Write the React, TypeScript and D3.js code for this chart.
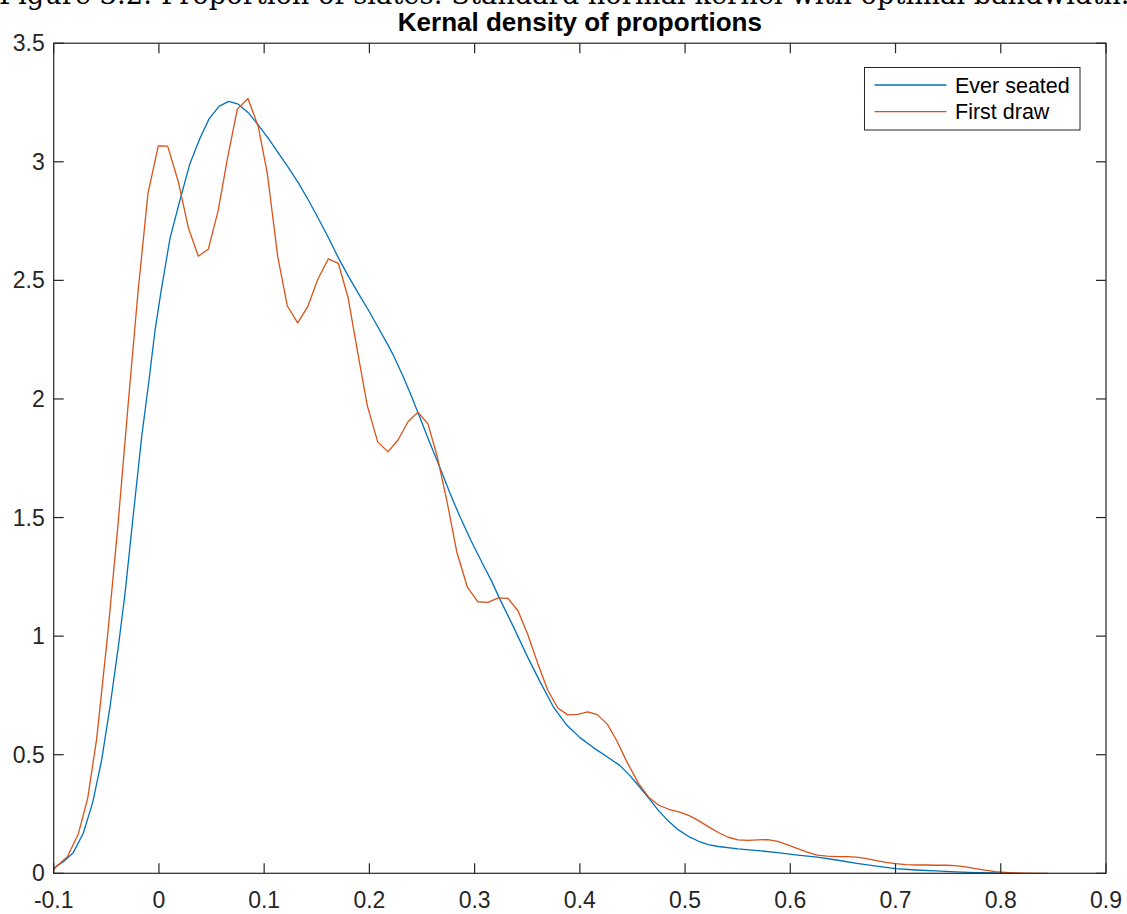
import React from "react";
import * as d3 from "d3";

const chartTitle = "Kernal density of proportions";
const captionText = "Figure 3.2: Proportion of slates: Standard normal kernel with optimal bandwidth.";
const seriesNames = ["Ever seated", "First draw"];
const seriesColors = ["#0072BD", "#D95319"];

const xTicks = [-0.1, 0, 0.1, 0.2, 0.3, 0.4, 0.5, 0.6, 0.7, 0.8, 0.9];
const xTickLabels = ["-0.1", "0", "0.1", "0.2", "0.3", "0.4", "0.5", "0.6", "0.7", "0.8", "0.9"];
const yTicks = [0, 0.5, 1, 1.5, 2, 2.5, 3, 3.5];
const yTickLabels = ["0", "0.5", "1", "1.5", "2", "2.5", "3", "3.5"];

const everSeated: [number, number][] = [
  [-0.1, 0.021], [-0.0909, 0.049], [-0.0814, 0.087], [-0.0719, 0.169], [-0.063, 0.298],
  [-0.0544, 0.478], [-0.0465, 0.702], [-0.0386, 0.955], [-0.0322, 1.18], [-0.0249, 1.489],
  [-0.0164, 1.84], [-0.0094, 2.08], [-0.0037, 2.29], [0.0017, 2.445], [0.0105, 2.677],
  [0.02, 2.839], [0.0295, 2.993], [0.039, 3.099], [0.0479, 3.183], [0.0574, 3.235],
  [0.0663, 3.255], [0.0754, 3.243], [0.0849, 3.207], [0.0944, 3.155], [0.104, 3.099],
  [0.1134, 3.038], [0.1229, 2.976], [0.1325, 2.911], [0.142, 2.839], [0.1515, 2.761],
  [0.161, 2.681], [0.1705, 2.595], [0.18, 2.518], [0.1895, 2.445], [0.199, 2.375],
  [0.2085, 2.3], [0.218, 2.225], [0.2227, 2.185], [0.2322, 2.094], [0.2402, 2.009],
  [0.2465, 1.939], [0.2576, 1.813], [0.2671, 1.71], [0.2766, 1.602], [0.2861, 1.503],
  [0.2963, 1.405], [0.3082, 1.3], [0.3158, 1.235], [0.3241, 1.155], [0.3368, 1.04],
  [0.3495, 0.92], [0.3621, 0.808], [0.3748, 0.702], [0.3875, 0.625], [0.4001, 0.572],
  [0.4128, 0.53], [0.428, 0.485], [0.4376, 0.456], [0.447, 0.415], [0.4564, 0.366],
  [0.466, 0.314], [0.475, 0.263], [0.4846, 0.218], [0.494, 0.182], [0.5034, 0.155],
  [0.513, 0.135], [0.522, 0.121], [0.5316, 0.113], [0.5504, 0.103], [0.569, 0.096],
  [0.588, 0.087], [0.607, 0.077], [0.6256, 0.068], [0.644, 0.056], [0.663, 0.042],
  [0.682, 0.03], [0.7, 0.02], [0.7195, 0.014], [0.738, 0.01], [0.757, 0.006],
  [0.776, 0.003], [0.795, 0.0015], [0.8135, 0.0],
];

const firstDraw: [number, number][] = [
  [-0.1, 0.015], [-0.097, 0.031], [-0.087, 0.07], [-0.0766, 0.166], [-0.0677, 0.316],
  [-0.0591, 0.569], [-0.0484, 1.02], [-0.0389, 1.47], [-0.0294, 1.97], [-0.0199, 2.45],
  [-0.0104, 2.867], [-0.0006, 3.067], [0.0083, 3.066], [0.0184, 2.916], [0.0279, 2.723],
  [0.0374, 2.602], [0.0469, 2.631], [0.0564, 2.796], [0.0654, 3.021], [0.0745, 3.222],
  [0.0846, 3.267], [0.0944, 3.148], [0.103, 2.951], [0.1129, 2.6], [0.122, 2.392],
  [0.1319, 2.321], [0.1414, 2.389], [0.1509, 2.504], [0.161, 2.591], [0.1705, 2.572],
  [0.1797, 2.428], [0.1885, 2.206], [0.198, 1.972], [0.2079, 1.819], [0.2177, 1.777],
  [0.2272, 1.827], [0.2367, 1.904], [0.2461, 1.944], [0.2557, 1.895], [0.2647, 1.753],
  [0.2738, 1.567], [0.283, 1.356], [0.293, 1.208], [0.3029, 1.145], [0.3127, 1.142],
  [0.3225, 1.161], [0.3317, 1.159], [0.3412, 1.107], [0.3507, 1.005], [0.36, 0.885],
  [0.3694, 0.773], [0.3789, 0.698], [0.3884, 0.668], [0.398, 0.67], [0.4075, 0.681],
  [0.4166, 0.669], [0.4261, 0.629], [0.435, 0.56], [0.4445, 0.472], [0.4556, 0.38],
  [0.4654, 0.321], [0.475, 0.287], [0.4846, 0.27], [0.494, 0.259], [0.5034, 0.244],
  [0.5128, 0.222], [0.522, 0.197], [0.5316, 0.172], [0.541, 0.152], [0.5504, 0.141],
  [0.56, 0.139], [0.569, 0.141], [0.5786, 0.142], [0.588, 0.135], [0.597, 0.121],
  [0.607, 0.104], [0.616, 0.089], [0.6256, 0.077], [0.635, 0.072], [0.644, 0.07],
  [0.654, 0.07], [0.663, 0.068], [0.6726, 0.062], [0.682, 0.0535], [0.691, 0.0465],
  [0.7, 0.041], [0.71, 0.037], [0.7195, 0.035], [0.729, 0.035], [0.738, 0.034],
  [0.748, 0.034], [0.757, 0.032], [0.7665, 0.027], [0.776, 0.02], [0.785, 0.013],
  [0.795, 0.007], [0.804, 0.004], [0.8135, 0.0015], [0.825, 0.0005], [0.845, 0.0],
];

const W = 1127;
const H = 914;
const left = 53.7;
const right = 1106;
const top = 43.2;
const bottom = 873.3;
const axisColor = "#262626";
const sans = "'Liberation Sans', Arial, Helvetica, sans-serif";

export default function App() {
  const x = d3.scaleLinear().domain([-0.1, 0.9]).range([left, right]);
  const y = d3.scaleLinear().domain([0, 3.5]).range([bottom, top]);
  const line = d3
    .line<[number, number]>()
    .x((d) => x(d[0]))
    .y((d) => y(d[1]));
  const series = [everSeated, firstDraw];
  const tickLen = 10;

  return (
    <svg
      width={W}
      height={H}
      style={{ position: "absolute", left: 0, top: 0, background: "#fff" }}
    >
      <rect x={0} y={0} width={W} height={H} fill="#fff" />
      <text x={-1} y={4} fontFamily="'DejaVu Serif', 'Liberation Serif', serif" fontSize={27.3} fill="#000">
        {captionText}
      </text>
      <text
        x={(left + right) / 2}
        y={31}
        textAnchor="middle"
        fontFamily={sans}
        fontWeight="bold"
        fontSize={26}
        fill="#000"
      >
        {chartTitle}
      </text>

      {/* lines */}
      <g fill="none" strokeWidth={1.3} strokeLinejoin="round">
        {series.map((s, i) => (
          <path key={i} d={line(s) || ""} stroke={seriesColors[i]} />
        ))}
      </g>

      {/* axes box */}
      <rect
        x={left}
        y={top}
        width={right - left}
        height={bottom - top}
        fill="none"
        stroke={axisColor}
        strokeWidth={1.2}
      />
      {xTicks.map((t, i) => (
        <g key={"xt" + i}>
          <line x1={x(t)} x2={x(t)} y1={bottom} y2={bottom - tickLen} stroke={axisColor} strokeWidth={1.2} />
          <line x1={x(t)} x2={x(t)} y1={top} y2={top + tickLen} stroke={axisColor} strokeWidth={1.2} />
          <text
            x={x(t)}
            y={bottom + 35}
            textAnchor="middle"
            fontFamily={sans}
            fontSize={23}
            fill={axisColor}
          >
            {xTickLabels[i]}
          </text>
        </g>
      ))}
      {yTicks.map((t, i) => (
        <g key={"yt" + i}>
          <line x1={left} x2={left + tickLen} y1={y(t)} y2={y(t)} stroke={axisColor} strokeWidth={1.2} />
          <line x1={right} x2={right - tickLen} y1={y(t)} y2={y(t)} stroke={axisColor} strokeWidth={1.2} />
          <text
            x={left - 9}
            y={y(t) + 8}
            textAnchor="end"
            fontFamily={sans}
            fontSize={23}
            fill={axisColor}
          >
            {yTickLabels[i]}
          </text>
        </g>
      ))}

      {/* legend */}
      <g>
        <rect x={864.5} y={67.5} width={215.5} height={62.5} fill="#fff" stroke={axisColor} strokeWidth={1} />
        {seriesNames.map((n, i) => {
          const yy = 85 + i * 26.7;
          return (
            <g key={n}>
              <line x1={874.5} x2={946.5} y1={yy} y2={yy} stroke={seriesColors[i]} strokeWidth={1.3} />
              <text x={955} y={yy + 7.5} fontFamily={sans} fontSize={21.5} fill="#000">
                {n}
              </text>
            </g>
          );
        })}
      </g>
    </svg>
  );
}
